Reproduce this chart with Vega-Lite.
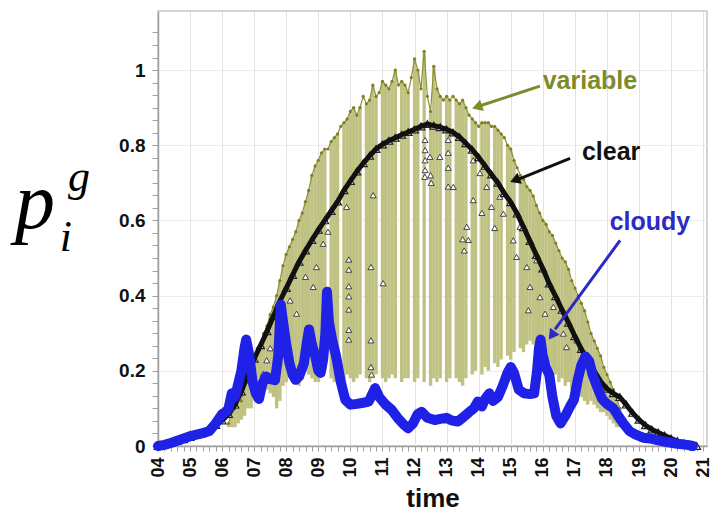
{
  "$schema": "https://vega.github.io/schema/vega-lite/v6.json",
  "width": 549,
  "height": 435,
  "autosize": {"type": "none"},
  "padding": {"left": 158, "top": 11, "right": 10, "bottom": 79},
  "background": "white",
  "config": {
    "view": {"stroke": "#c8c8c8", "strokeWidth": 1.5},
    "axis": {"labelFont": "Liberation Sans", "labelFontWeight": "bold", "titleFont": "Liberation Sans", "titleFontWeight": "bold", "domainColor": "#a0a0a0", "tickColor": "#a0a0a0", "labelColor": "#111111", "titleColor": "#111111"}
  },
  "datasets": {
    "variable": [
      {"t":6.2,"p":0.06,"lo":0.05},{"t":6.3,"p":0.09,"lo":0.05},{"t":6.4,"p":0.10,"lo":0.05},{"t":6.5,"p":0.13,"lo":0.06},{"t":6.6,"p":0.12,"lo":0.07},{"t":6.7,"p":0.16,"lo":0.08},{"t":6.8,"p":0.17,"lo":0.10},{"t":6.9,"p":0.20,"lo":0.10},{"t":7.0,"p":0.23,"lo":0.12},{"t":7.1,"p":0.26,"lo":0.12},{"t":7.2,"p":0.27,"lo":0.14},{"t":7.3,"p":0.30,"lo":0.16},{"t":7.4,"p":0.32,"lo":0.15},{"t":7.5,"p":0.35,"lo":0.14},{"t":7.6,"p":0.37,"lo":0.13},{"t":7.7,"p":0.40,"lo":0.10},{"t":7.8,"p":0.44,"lo":0.12},{"t":7.9,"p":0.48,"lo":0.16},{"t":8.0,"p":0.51,"lo":0.17},{"t":8.1,"p":0.53,"lo":0.18},{"t":8.2,"p":0.55,"lo":0.17},{"t":8.3,"p":0.57,"lo":0.19},{"t":8.4,"p":0.60,"lo":0.16},{"t":8.5,"p":0.62,"lo":0.18},{"t":8.6,"p":0.65,"lo":0.20},{"t":8.7,"p":0.68,"lo":0.19},{"t":8.8,"p":0.72,"lo":0.18},{"t":8.9,"p":0.745,"lo":0.17},{"t":9.0,"p":0.76,"lo":0.17},{"t":9.1,"p":0.78,"lo":0.19},{"t":9.2,"p":0.79,"lo":0.20},{"t":9.3,"p":0.79,"lo":0.79},{"t":9.4,"p":0.81,"lo":0.18},{"t":9.5,"p":0.82,"lo":0.17},{"t":9.6,"p":0.83,"lo":0.18},{"t":9.7,"p":0.85,"lo":0.85},{"t":9.8,"p":0.86,"lo":0.17},{"t":9.9,"p":0.87,"lo":0.19},{"t":10.0,"p":0.89,"lo":0.18},{"t":10.1,"p":0.90,"lo":0.17},{"t":10.2,"p":0.88,"lo":0.18},{"t":10.3,"p":0.90,"lo":0.19},{"t":10.4,"p":0.93,"lo":0.93},{"t":10.5,"p":0.91,"lo":0.18},{"t":10.6,"p":0.92,"lo":0.17},{"t":10.7,"p":0.96,"lo":0.18},{"t":10.8,"p":0.93,"lo":0.19},{"t":10.9,"p":0.94,"lo":0.94},{"t":11.0,"p":0.97,"lo":0.18},{"t":11.1,"p":0.96,"lo":0.17},{"t":11.2,"p":0.95,"lo":0.18},{"t":11.3,"p":0.97,"lo":0.19},{"t":11.4,"p":1.00,"lo":0.18},{"t":11.5,"p":0.96,"lo":0.96},{"t":11.6,"p":0.97,"lo":0.17},{"t":11.7,"p":0.96,"lo":0.18},{"t":11.8,"p":0.94,"lo":0.18},{"t":11.9,"p":0.98,"lo":0.98},{"t":12.0,"p":1.03,"lo":0.17},{"t":12.1,"p":1.00,"lo":0.18},{"t":12.2,"p":0.95,"lo":0.95},{"t":12.3,"p":1.05,"lo":0.17},{"t":12.4,"p":0.93,"lo":0.93},{"t":12.5,"p":0.89,"lo":0.16},{"t":12.6,"p":1.01,"lo":0.18},{"t":12.7,"p":0.95,"lo":0.17},{"t":12.8,"p":0.93,"lo":0.18},{"t":12.9,"p":0.92,"lo":0.92},{"t":13.0,"p":0.93,"lo":0.17},{"t":13.1,"p":0.92,"lo":0.18},{"t":13.2,"p":0.93,"lo":0.93},{"t":13.3,"p":0.92,"lo":0.18},{"t":13.4,"p":0.91,"lo":0.17},{"t":13.5,"p":0.92,"lo":0.16},{"t":13.6,"p":0.90,"lo":0.18},{"t":13.7,"p":0.88,"lo":0.88},{"t":13.8,"p":0.87,"lo":0.19},{"t":13.9,"p":0.86,"lo":0.20},{"t":14.0,"p":0.85,"lo":0.85},{"t":14.1,"p":0.86,"lo":0.19},{"t":14.2,"p":0.86,"lo":0.21},{"t":14.3,"p":0.86,"lo":0.20},{"t":14.4,"p":0.85,"lo":0.85},{"t":14.5,"p":0.85,"lo":0.22},{"t":14.6,"p":0.84,"lo":0.21},{"t":14.7,"p":0.83,"lo":0.23},{"t":14.8,"p":0.82,"lo":0.82},{"t":14.9,"p":0.80,"lo":0.24},{"t":15.0,"p":0.79,"lo":0.23},{"t":15.1,"p":0.76,"lo":0.25},{"t":15.2,"p":0.74,"lo":0.74},{"t":15.3,"p":0.72,"lo":0.26},{"t":15.4,"p":0.71,"lo":0.25},{"t":15.5,"p":0.69,"lo":0.27},{"t":15.6,"p":0.68,"lo":0.28},{"t":15.7,"p":0.665,"lo":0.27},{"t":15.8,"p":0.64,"lo":0.26},{"t":15.9,"p":0.62,"lo":0.25},{"t":16.0,"p":0.60,"lo":0.27},{"t":16.1,"p":0.59,"lo":0.25},{"t":16.2,"p":0.57,"lo":0.22},{"t":16.3,"p":0.56,"lo":0.20},{"t":16.4,"p":0.54,"lo":0.19},{"t":16.5,"p":0.52,"lo":0.17},{"t":16.6,"p":0.50,"lo":0.18},{"t":16.7,"p":0.49,"lo":0.16},{"t":16.8,"p":0.47,"lo":0.17},{"t":16.9,"p":0.44,"lo":0.15},{"t":17.0,"p":0.42,"lo":0.16},{"t":17.1,"p":0.40,"lo":0.14},{"t":17.2,"p":0.38,"lo":0.13},{"t":17.3,"p":0.36,"lo":0.12},{"t":17.4,"p":0.33,"lo":0.11},{"t":17.5,"p":0.30,"lo":0.12},{"t":17.6,"p":0.28,"lo":0.11},{"t":17.7,"p":0.26,"lo":0.10},{"t":17.8,"p":0.24,"lo":0.09},{"t":17.9,"p":0.21,"lo":0.09},{"t":18.0,"p":0.19,"lo":0.08},{"t":18.1,"p":0.17,"lo":0.07},{"t":18.2,"p":0.15,"lo":0.06},{"t":18.3,"p":0.13,"lo":0.05},{"t":18.4,"p":0.10,"lo":0.05}
    ],
    "clear": [
      {"t":4.0,"p":0.000},{"t":4.2,"p":0.004},{"t":4.4,"p":0.008},{"t":4.6,"p":0.013},{"t":4.8,"p":0.018},{"t":5.0,"p":0.024},{"t":5.2,"p":0.030},{"t":5.4,"p":0.037},{"t":5.6,"p":0.045},{"t":5.8,"p":0.056},{"t":6.0,"p":0.068},{"t":6.2,"p":0.085},{"t":6.4,"p":0.110},{"t":6.6,"p":0.145},{"t":6.8,"p":0.190},{"t":7.0,"p":0.232},{"t":7.2,"p":0.268},{"t":7.4,"p":0.305},{"t":7.6,"p":0.345},{"t":7.8,"p":0.385},{"t":8.0,"p":0.420},{"t":8.2,"p":0.455},{"t":8.4,"p":0.490},{"t":8.6,"p":0.520},{"t":8.8,"p":0.548},{"t":9.0,"p":0.575},{"t":9.2,"p":0.600},{"t":9.4,"p":0.625},{"t":9.6,"p":0.650},{"t":9.8,"p":0.680},{"t":10.0,"p":0.705},{"t":10.2,"p":0.730},{"t":10.4,"p":0.752},{"t":10.6,"p":0.772},{"t":10.8,"p":0.790},{"t":11.0,"p":0.802},{"t":11.2,"p":0.812},{"t":11.4,"p":0.820},{"t":11.6,"p":0.828},{"t":11.8,"p":0.835},{"t":12.0,"p":0.842},{"t":12.2,"p":0.850},{"t":12.4,"p":0.856},{"t":12.6,"p":0.852},{"t":12.8,"p":0.848},{"t":13.0,"p":0.842},{"t":13.2,"p":0.834},{"t":13.4,"p":0.822},{"t":13.6,"p":0.805},{"t":13.8,"p":0.788},{"t":14.0,"p":0.768},{"t":14.2,"p":0.745},{"t":14.4,"p":0.722},{"t":14.6,"p":0.700},{"t":14.8,"p":0.672},{"t":15.0,"p":0.648},{"t":15.2,"p":0.618},{"t":15.4,"p":0.582},{"t":15.6,"p":0.545},{"t":15.8,"p":0.508},{"t":16.0,"p":0.472},{"t":16.2,"p":0.432},{"t":16.4,"p":0.398},{"t":16.6,"p":0.362},{"t":16.8,"p":0.328},{"t":17.0,"p":0.292},{"t":17.2,"p":0.258},{"t":17.4,"p":0.228},{"t":17.6,"p":0.200},{"t":17.8,"p":0.172},{"t":18.0,"p":0.152},{"t":18.2,"p":0.140},{"t":18.4,"p":0.130},{"t":18.6,"p":0.110},{"t":18.8,"p":0.088},{"t":19.0,"p":0.070},{"t":19.2,"p":0.055},{"t":19.4,"p":0.044},{"t":19.6,"p":0.036},{"t":19.8,"p":0.028},{"t":20.0,"p":0.020},{"t":20.2,"p":0.013},{"t":20.4,"p":0.007},{"t":20.6,"p":0.003},{"t":20.8,"p":0.000}
    ],
    "clearPts": [
      {"t":9.95,"p":0.496},{"t":9.95,"p":0.469},{"t":9.95,"p":0.425},{"t":9.95,"p":0.398},{"t":9.95,"p":0.363},{"t":9.95,"p":0.309},{"t":9.95,"p":0.283},
      {"t":10.64,"p":0.476},{"t":10.64,"p":0.281},{"t":10.64,"p":0.21},{"t":10.66,"p":0.19},
      {"t":8.32,"p":0.352},{"t":8.84,"p":0.423},{"t":8.94,"p":0.476},{"t":9.15,"p":0.538},{"t":9.88,"p":0.636},{"t":10.71,"p":0.667},{"t":8.12,"p":0.387},{"t":7.39,"p":0.228},{"t":7.28,"p":0.192},{"t":7.5,"p":0.26},{"t":8.6,"p":0.45},{"t":9.3,"p":0.57},
      {"t":11.02,"p":0.433},
      {"t":12.33,"p":0.814},{"t":12.33,"p":0.787},{"t":12.33,"p":0.76},{"t":12.33,"p":0.734},{"t":12.48,"p":0.769},{"t":12.5,"p":0.72},{"t":12.52,"p":0.70},{"t":12.32,"p":0.716},
      {"t":13.05,"p":0.814},{"t":13.05,"p":0.78},{"t":13.05,"p":0.74},{"t":13.05,"p":0.69},{"t":12.79,"p":0.769},{"t":13.21,"p":0.689},
      {"t":13.5,"p":0.55},{"t":13.55,"p":0.52},
      {"t":13.63,"p":0.583},{"t":13.68,"p":0.548},{"t":13.83,"p":0.654},{"t":14.04,"p":0.726},{"t":14.25,"p":0.689},{"t":14.4,"p":0.636},{"t":14.66,"p":0.663},{"t":14.77,"p":0.618},{"t":15.08,"p":0.547},{"t":15.18,"p":0.503},{"t":15.29,"p":0.583},{"t":15.5,"p":0.476},{"t":15.6,"p":0.423},{"t":15.81,"p":0.494},{"t":15.91,"p":0.396},{"t":15.55,"p":0.361},{"t":16.07,"p":0.352},{"t":16.33,"p":0.37},{"t":16.64,"p":0.299},{"t":16.74,"p":0.263},{"t":17.06,"p":0.281},{"t":13.83,"p":0.76},{"t":14.1,"p":0.62},{"t":14.5,"p":0.58}
    ],
    "cloudy": [
      {"t":4.0,"p":0.000},{"t":4.2,"p":0.003},{"t":4.4,"p":0.008},{"t":4.6,"p":0.014},{"t":4.8,"p":0.020},{"t":5.0,"p":0.026},{"t":5.2,"p":0.030},{"t":5.4,"p":0.034},{"t":5.6,"p":0.040},{"t":5.8,"p":0.060},{"t":6.0,"p":0.085},{"t":6.1,"p":0.090},{"t":6.2,"p":0.100},{"t":6.3,"p":0.140},{"t":6.4,"p":0.130},{"t":6.5,"p":0.165},{"t":6.6,"p":0.200},{"t":6.7,"p":0.262},{"t":6.75,"p":0.283},{"t":6.85,"p":0.240},{"t":6.95,"p":0.170},{"t":7.05,"p":0.140},{"t":7.15,"p":0.125},{"t":7.25,"p":0.165},{"t":7.37,"p":0.185},{"t":7.5,"p":0.178},{"t":7.65,"p":0.175},{"t":7.75,"p":0.240},{"t":7.83,"p":0.376},{"t":7.9,"p":0.330},{"t":8.0,"p":0.270},{"t":8.1,"p":0.220},{"t":8.2,"p":0.190},{"t":8.29,"p":0.176},{"t":8.4,"p":0.185},{"t":8.55,"p":0.220},{"t":8.65,"p":0.280},{"t":8.71,"p":0.310},{"t":8.8,"p":0.270},{"t":8.9,"p":0.240},{"t":9.0,"p":0.200},{"t":9.07,"p":0.194},{"t":9.15,"p":0.230},{"t":9.22,"p":0.300},{"t":9.27,"p":0.410},{"t":9.33,"p":0.330},{"t":9.43,"p":0.283},{"t":9.55,"p":0.240},{"t":9.7,"p":0.170},{"t":9.84,"p":0.123},{"t":10.0,"p":0.110},{"t":10.2,"p":0.112},{"t":10.4,"p":0.115},{"t":10.57,"p":0.118},{"t":10.77,"p":0.154},{"t":10.9,"p":0.130},{"t":11.1,"p":0.110},{"t":11.29,"p":0.096},{"t":11.5,"p":0.072},{"t":11.65,"p":0.058},{"t":11.8,"p":0.047},{"t":11.95,"p":0.060},{"t":12.1,"p":0.085},{"t":12.22,"p":0.091},{"t":12.4,"p":0.075},{"t":12.63,"p":0.069},{"t":12.8,"p":0.072},{"t":13.0,"p":0.075},{"t":13.15,"p":0.068},{"t":13.35,"p":0.065},{"t":13.5,"p":0.075},{"t":13.7,"p":0.090},{"t":13.85,"p":0.100},{"t":13.97,"p":0.118},{"t":14.1,"p":0.105},{"t":14.2,"p":0.125},{"t":14.33,"p":0.140},{"t":14.45,"p":0.120},{"t":14.6,"p":0.130},{"t":14.75,"p":0.160},{"t":14.9,"p":0.195},{"t":15.0,"p":0.210},{"t":15.1,"p":0.195},{"t":15.25,"p":0.150},{"t":15.42,"p":0.140},{"t":15.6,"p":0.138},{"t":15.73,"p":0.140},{"t":15.82,"p":0.200},{"t":15.88,"p":0.260},{"t":15.93,"p":0.283},{"t":16.0,"p":0.240},{"t":16.09,"p":0.210},{"t":16.2,"p":0.190},{"t":16.3,"p":0.130},{"t":16.42,"p":0.080},{"t":16.55,"p":0.060},{"t":16.7,"p":0.080},{"t":16.85,"p":0.105},{"t":16.97,"p":0.123},{"t":17.1,"p":0.180},{"t":17.2,"p":0.215},{"t":17.33,"p":0.238},{"t":17.45,"p":0.225},{"t":17.55,"p":0.190},{"t":17.69,"p":0.158},{"t":17.85,"p":0.125},{"t":18.0,"p":0.112},{"t":18.2,"p":0.100},{"t":18.35,"p":0.080},{"t":18.51,"p":0.060},{"t":18.7,"p":0.040},{"t":18.9,"p":0.030},{"t":19.13,"p":0.022},{"t":19.34,"p":0.020},{"t":19.6,"p":0.015},{"t":19.9,"p":0.010},{"t":20.2,"p":0.006},{"t":20.5,"p":0.003},{"t":20.68,"p":0.000}
    ],
    "arrows": [
      {"name":"variable","t":15.91,"p":0.957,"t2":14.05,"p2":0.905},
      {"name":"clear","t":16.85,"p":0.765,"t2":15.25,"p2":0.71},
      {"name":"cloudy","t":18.41,"p":0.547,"t2":16.38,"p2":0.31}
    ],
    "heads": [
      {"name":"variable","t":13.95,"p":0.902},
      {"name":"clear","t":15.13,"p":0.707},
      {"name":"cloudy","t":16.28,"p":0.294}
    ],
    "notes": [
      {"name":"variable","txt":"variable","t":17.47,"p":0.949},
      {"name":"clear","txt":"clear","t":18.13,"p":0.760},
      {"name":"cloudy","txt":"cloudy","t":19.34,"p":0.574}
    ],
    "math": [
      {"txt":"p","t":-0.46,"p":0.579},
      {"txt":"g","t":1.19,"p":0.678},
      {"txt":"i","t":0.94,"p":0.518}
    ]
  },
  "encoding": {
    "x": {
      "field": "t", "type": "quantitative",
      "scale": {"domain": [4, 21.12], "nice": false, "zero": false},
      "axis": {
        "title": "time", "titleFontSize": 26, "titlePadding": 8,
        "values": [4,4.2,4.4,4.6,4.8,5,5.2,5.4,5.6,5.8,6,6.2,6.4,6.6,6.8,7,7.2,7.4,7.6,7.8,8,8.2,8.4,8.6,8.8,9,9.2,9.4,9.6,9.8,10,10.2,10.4,10.6,10.8,11,11.2,11.4,11.6,11.8,12,12.2,12.4,12.6,12.8,13,13.2,13.4,13.6,13.8,14,14.2,14.4,14.6,14.8,15,15.2,15.4,15.6,15.8,16,16.2,16.4,16.6,16.8,17,17.2,17.4,17.6,17.8,18,18.2,18.4,18.6,18.8,19,19.2,19.4,19.6,19.8,20,20.2,20.4,20.6,20.8,21],
        "labelExpr": "abs(datum.value - round(datum.value)) < 0.01 ? (round(datum.value) < 10 ? '0' : '') + round(datum.value) : ''",
        "labelAngle": 270, "labelFontSize": 18, "labelPadding": 6, "labelOverlap": false, "labelBound": false, "labelFlush": false,
        "tickSize": 5, "domainWidth": 1.5,
        "grid": true, "gridColor": "#e2e2e2",
        "gridOpacity": {"condition": {"test": "abs(datum.value - round(datum.value)) < 0.01", "value": 1}, "value": 0}
      }
    },
    "y": {
      "field": "p", "type": "quantitative",
      "scale": {"domain": [0, 1.157], "nice": false, "zero": true},
      "axis": {
        "title": null,
        "values": [0,0.0333,0.0667,0.1,0.1333,0.1667,0.2,0.2333,0.2667,0.3,0.3333,0.3667,0.4,0.4333,0.4667,0.5,0.5333,0.5667,0.6,0.6333,0.6667,0.7,0.7333,0.7667,0.8,0.8333,0.8667,0.9,0.9333,0.9667,1,1.0333,1.0667,1.1],
        "labelExpr": "abs(datum.value*5 - round(datum.value*5)) < 0.01 && datum.value < 1.01 ? format(datum.value, '.1~f') : ''",
        "labelFontSize": 19, "labelPadding": 7, "labelOverlap": false, "labelBound": false, "labelFlush": false,
        "tickSize": 6, "domainWidth": 1.5,
        "grid": true, "gridColor": "#ececec",
        "gridOpacity": {"condition": {"test": "abs(datum.value*5 - round(datum.value*5)) < 0.01", "value": 1}, "value": 0}
      }
    }
  },
  "layer": [
    {"data": {"name": "variable"}, "mark": {"type": "rule", "strokeWidth": 3.4, "color": "#c0c283", "strokeCap": "butt"}, "encoding": {"y2": {"field": "lo"}}},
    {"data": {"name": "variable"}, "mark": {"type": "line", "strokeWidth": 1.2, "color": "#8e9034"}, "encoding": {}},
    {"data": {"name": "variable"}, "mark": {"type": "point", "filled": true, "size": 10, "color": "#7d7f22", "opacity": 1}, "encoding": {}},
    {"data": {"name": "clearPts"}, "mark": {"type": "point", "shape": "triangle-up", "filled": true, "fill": "#ffffff", "stroke": "#333333", "strokeWidth": 0.9, "size": 36, "opacity": 1}, "encoding": {}},
    {"data": {"name": "clear"}, "mark": {"type": "point", "shape": "triangle-up", "filled": true, "fill": "#ffffff", "stroke": "#222222", "strokeWidth": 1.2, "size": 60, "opacity": 1}, "encoding": {}},
    {"data": {"name": "clear"}, "mark": {"type": "line", "strokeWidth": 5, "color": "#111111"}, "encoding": {}},
    {"data": {"name": "cloudy"}, "mark": {"type": "line", "strokeWidth": 10, "color": "#1f22e6", "strokeCap": "round", "strokeJoin": "round"}, "encoding": {}},
    {"data": {"name": "arrows"}, "mark": {"type": "rule", "strokeWidth": 3}, "encoding": {"x2": {"field": "t2"}, "y2": {"field": "p2"}, "color": {"field": "name", "type": "nominal", "scale": {"domain": ["variable", "clear", "cloudy"], "range": ["#7f8a2a", "#111111", "#2a2ac4"]}, "legend": null}}},
    {"data": {"name": "heads"}, "transform": [{"filter": "datum.name == 'variable'"}], "mark": {"type": "point", "shape": "triangle-up", "filled": true, "size": 140, "angle": 252, "opacity": 1}, "encoding": {"color": {"field": "name", "type": "nominal", "scale": {"domain": ["variable", "clear", "cloudy"], "range": ["#7f8a2a", "#111111", "#2a2ac4"]}, "legend": null}}},
    {"data": {"name": "heads"}, "transform": [{"filter": "datum.name == 'clear'"}], "mark": {"type": "point", "shape": "triangle-up", "filled": true, "size": 140, "angle": 248, "opacity": 1}, "encoding": {"color": {"field": "name", "type": "nominal", "scale": {"domain": ["variable", "clear", "cloudy"], "range": ["#7f8a2a", "#111111", "#2a2ac4"]}, "legend": null}}},
    {"data": {"name": "heads"}, "transform": [{"filter": "datum.name == 'cloudy'"}], "mark": {"type": "point", "shape": "triangle-up", "filled": true, "size": 140, "angle": 216, "opacity": 1}, "encoding": {"color": {"field": "name", "type": "nominal", "scale": {"domain": ["variable", "clear", "cloudy"], "range": ["#7f8a2a", "#111111", "#2a2ac4"]}, "legend": null}}},
    {"data": {"name": "notes"}, "mark": {"type": "text", "font": "Liberation Sans", "fontWeight": "bold", "fontSize": 25, "align": "center", "baseline": "alphabetic"}, "encoding": {"text": {"field": "txt"}, "color": {"field": "name", "type": "nominal", "scale": {"domain": ["variable", "clear", "cloudy"], "range": ["#7f8a2a", "#111111", "#2a2ac4"]}, "legend": null}}},
    {"data": {"name": "math"}, "transform": [{"filter": "datum.txt == 'p'"}], "mark": {"type": "text", "font": "Liberation Serif", "fontStyle": "italic", "fontSize": 80, "align": "left", "baseline": "alphabetic", "color": "#000000"}, "encoding": {"text": {"field": "txt"}}},
    {"data": {"name": "math"}, "transform": [{"filter": "datum.txt != 'p'"}], "mark": {"type": "text", "font": "Liberation Serif", "fontStyle": "italic", "fontSize": 44, "align": "left", "baseline": "alphabetic", "color": "#000000"}, "encoding": {"text": {"field": "txt"}}}
  ]
}
